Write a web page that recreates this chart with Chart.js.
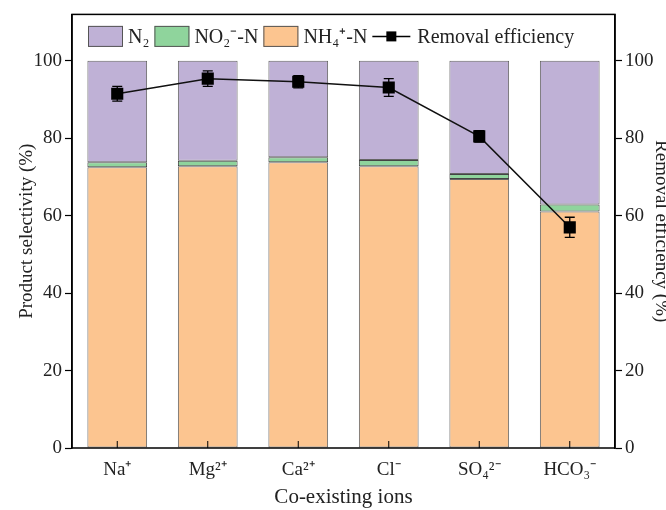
<!DOCTYPE html>
<html>
<head>
<meta charset="utf-8">
<script src="https://cdn.jsdelivr.net/npm/chart.js@4"></script>
<style>
  body { margin: 0; overflow: hidden; background: #fff; }
  #wrap { width: 674px; height: 510px; }
</style>
</head>
<body>
<div id="wrap"><canvas id="chart" width="674" height="510"></canvas></div>
<script>
// data
const ions = ["Na\u207A", "Mg\u00B2\u207A", "Ca\u00B2\u207A", "Cl\u207B", "SO\u2084\u00B2\u207B", "HCO\u2083\u207B"];
const nh4 = [72.5, 72.8, 73.8, 72.8, 69.5, 61.1];
const no2 = [1.3, 1.4, 1.3, 1.6, 1.3, 1.8];
const n2 = nh4.map((v, i) => +(100 - v - no2[i]).toFixed(1));
const removal = [91.5, 95.4, 94.6, 93.1, 80.5, 57.0];
const removalErr = [1.9, 2.0, 1.6, 2.3, 1.5, 2.6];
const yTicks = [0, 20, 40, 60, 80, 100];

const serif = "'Liberation Serif', 'Times New Roman', serif";
const txt = "#222";

// error bars, inward x ticks, frame and legend
const extras = {
  id: "extras",
  afterDatasetsDraw(chart) {
    const ctx = chart.ctx;
    const meta = chart.getDatasetMeta(3);
    const y2 = chart.scales.y2;
    ctx.save();
    ctx.strokeStyle = "#000";
    ctx.lineWidth = 1.3;
    meta.data.forEach((pt, i) => {
      const top = y2.getPixelForValue(removal[i] + removalErr[i]);
      const bot = y2.getPixelForValue(removal[i] - removalErr[i]);
      ctx.beginPath();
      ctx.moveTo(pt.x, top); ctx.lineTo(pt.x, bot);
      ctx.moveTo(pt.x - 5, top); ctx.lineTo(pt.x + 5, top);
      ctx.moveTo(pt.x - 5, bot); ctx.lineTo(pt.x + 5, bot);
      ctx.stroke();
    });
    ctx.restore();
  },
  afterDraw(chart) {
    const ctx = chart.ctx;
    const a = chart.chartArea;
    const x = chart.scales.x;
    ctx.save();
    ctx.strokeStyle = "#000";
    ctx.lineWidth = 1.5;
    ctx.strokeRect(a.left, a.top, a.right - a.left, a.bottom - a.top);
    ctx.lineWidth = 1;
    for (let i = 0; i < ions.length; i++) {
      const px = x.getPixelForValue(i);
      ctx.beginPath();
      ctx.moveTo(px, a.bottom); ctx.lineTo(px, a.bottom - 7);
      ctx.stroke();
    }

    // legend inside the frame
    const order = [2, 1, 0, 3];
    let lx = a.left + 16;
    const ly = a.top + 22;
    ctx.font = "20px " + serif;
    ctx.textBaseline = "middle";
    order.forEach(di => {
      const ds = chart.data.datasets[di];
      if (ds.type === "line") {
        ctx.strokeStyle = "#000";
        ctx.lineWidth = 1.5;
        ctx.beginPath();
        ctx.moveTo(lx, ly); ctx.lineTo(lx + 38, ly);
        ctx.stroke();
        ctx.fillStyle = "#000";
        ctx.fillRect(lx + 19 - 5, ly - 5, 10, 10);
        lx += 45;
      } else {
        ctx.fillStyle = ds.backgroundColor;
        ctx.fillRect(lx, ly - 10.5, 35, 21);
        ctx.strokeStyle = "#555";
        ctx.lineWidth = 1;
        ctx.strokeRect(lx + 0.5, ly - 10, 34, 20);
        lx += 40;
      }
      ctx.fillStyle = txt;
      ctx.fillText(ds.label, lx, ly + 1);
      lx += ctx.measureText(ds.label).width + 5;
    });
    ctx.restore();
  }
};

const yScale = (pos, title) => ({
  type: "linear",
  position: pos,
  min: 0,
  max: 112,
  stacked: pos === "left",
  afterBuildTicks: ax => { ax.ticks = yTicks.map(v => ({ value: v })); },
  afterFit: ax => { ax.width = pos === "left" ? 62 : 59; },
  border: { display: true, color: "#000", width: 1.5 },
  grid: { drawOnChartArea: false, drawTicks: true, tickLength: 7, color: "#000", tickWidth: 1.2 },
  ticks: { color: txt, font: { family: serif, size: 19 }, padding: 3 },
  title: { display: true, text: title, color: txt, font: { family: serif, size: 19 }, padding: pos === "left" ? 6 : 2 }
});

new Chart(document.getElementById("chart"), {
  data: {
    labels: ions,
    datasets: [
      { type: "bar", label: "NH\u2084\u207A-N", data: nh4, backgroundColor: "#FCC590", borderColor: "#666", borderWidth: 1, borderSkipped: false, order: 1 },
      { type: "bar", label: "NO\u2082\u207B-N", data: no2, backgroundColor: "#8FD49C", borderColor: "#444", borderWidth: 1, borderSkipped: false, order: 1 },
      { type: "bar", label: "N\u2082", data: n2, backgroundColor: "#BFB1D6", borderColor: "#666", borderWidth: 1, borderSkipped: false, order: 1 },
      { type: "line", label: "Removal efficiency", data: removal, yAxisID: "y2", borderColor: "#111", borderWidth: 1.5,
        pointStyle: "rect", pointRadius: 7.5, pointBackgroundColor: "#000", pointBorderColor: "#000", order: 0 }
    ]
  },
  options: {
    responsive: false,
    animation: false,
    layout: { padding: { top: 12, left: 10, right: 0, bottom: 0 } },
    datasets: { bar: { categoryPercentage: 1, barPercentage: 0.66 } },
    plugins: { legend: { display: false }, tooltip: { enabled: false } },
    scales: {
      x: {
        stacked: true,
        afterFit: ax => { ax.height = 62; },
        border: { display: false },
        grid: { display: false },
        ticks: { color: txt, font: { family: serif, size: 19 }, padding: 3 },
        title: { display: true, text: "Co-existing ions", color: txt, font: { family: serif, size: 21 }, padding: 0 }
      },
      y: yScale("left", "Product selectivity (%)"),
      y2: yScale("right", "Removal efficiency (%)")
    }
  },
  plugins: [extras]
});
</script>
</body>
</html>
